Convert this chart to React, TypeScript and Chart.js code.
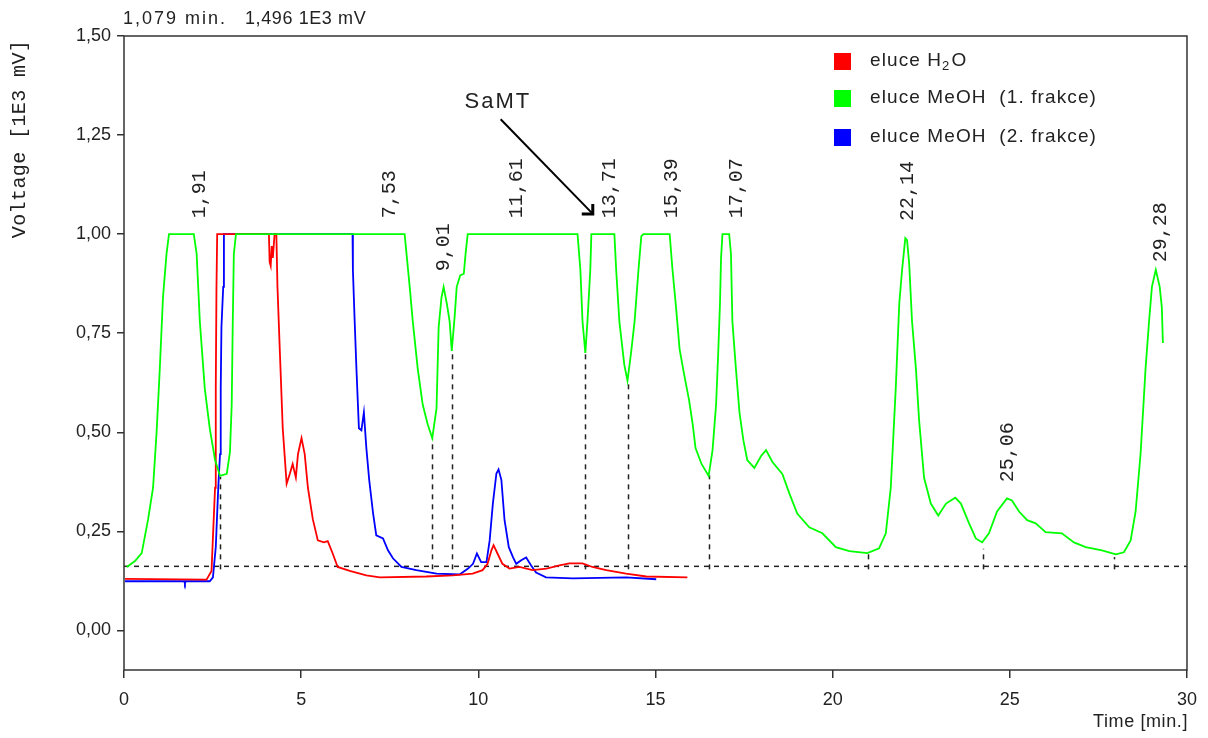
import React, { useEffect, useRef } from "react";
import { Chart, registerables } from "chart.js";

Chart.register(...registerables);

// ---------- data ----------
const xTicks = [0, 5, 10, 15, 20, 25, 30];
const yTicks = [0, 0.25, 0.5, 0.75, 1.0, 1.25, 1.5];

const seriesNames = ["eluce H₂O", "eluce MeOH  (1. frakce)", "eluce MeOH  (2. frakce)"];
const seriesColors = ["#ff0000", "#00ff00", "#0000ff"];

const headerTime = "1,079 min.";
const headerVolt = "1,496 1E3 mV";
const yTitle = "Voltage [1E3 mV]";
const xTitle = "Time [min.]";
const annotationText = "SaMT";

// eluce H2O (red)
const h2oTime = [0.03, 2.33, 2.47, 2.51, 2.57, 2.59, 2.61, 2.63, 4.09, 4.11, 4.14, 4.17, 4.2, 4.25, 4.3, 4.33, 4.4, 4.48, 4.59, 4.68, 4.76, 4.85, 4.91, 5.01, 5.1, 5.19, 5.33, 5.47, 5.64, 5.75, 5.89, 6.03, 6.37, 6.84, 7.22, 8.53, 9.28, 9.84, 10.12, 10.26, 10.37, 10.43, 10.54, 10.68, 10.88, 11.16, 11.53, 11.92, 12.29, 12.57, 12.94, 13.22, 13.61, 14.17, 14.74, 15.9];
const h2oVolt = [0.13, 0.128, 0.15, 0.235, 0.36, 0.61, 0.867, 1.0, 1.0, 0.93, 0.92, 0.97, 0.94, 1.0, 1.0, 0.87, 0.7, 0.51, 0.37, 0.395, 0.42, 0.386, 0.445, 0.485, 0.445, 0.36, 0.28, 0.227, 0.222, 0.225, 0.194, 0.16, 0.15, 0.139, 0.134, 0.136, 0.139, 0.143, 0.152, 0.168, 0.202, 0.215, 0.194, 0.168, 0.156, 0.16, 0.152, 0.156, 0.164, 0.169, 0.169, 0.16, 0.152, 0.143, 0.136, 0.134];

// eluce MeOH 1. frakce (green)
const meoh1Time = [0.08, 0.31, 0.5, 0.68, 0.82, 0.92, 1.01, 1.1, 1.2, 1.27, 1.97, 2.05, 2.14, 2.28, 2.42, 2.57, 2.71, 2.9, 2.99, 3.04, 3.07, 3.1, 3.16, 7.92, 8.06, 8.15, 8.29, 8.43, 8.57, 8.7, 8.82, 8.88, 8.96, 9.02, 9.11, 9.19, 9.25, 9.33, 9.39, 9.49, 9.59, 9.64, 9.7, 12.8, 12.88, 12.94, 13.02, 13.08, 13.16, 13.19, 13.84, 13.89, 13.98, 14.12, 14.21, 14.31, 14.41, 14.52, 14.6, 14.66, 15.4, 15.48, 15.58, 15.68, 15.8, 15.95, 16.05, 16.13, 16.3, 16.5, 16.61, 16.71, 16.77, 16.82, 16.85, 16.89, 17.08, 17.13, 17.17, 17.27, 17.37, 17.48, 17.59, 17.79, 17.98, 18.12, 18.3, 18.58, 18.78, 19.0, 19.34, 19.71, 20.09, 20.47, 20.98, 21.31, 21.5, 21.64, 21.78, 21.88, 21.96, 22.05, 22.1, 22.16, 22.24, 22.35, 22.44, 22.58, 22.77, 22.98, 23.2, 23.46, 23.62, 23.85, 24.04, 24.22, 24.41, 24.64, 24.92, 25.06, 25.26, 25.49, 25.73, 26.01, 26.47, 26.81, 27.14, 27.6, 27.99, 28.22, 28.41, 28.55, 28.69, 28.83, 28.93, 29.01, 29.12, 29.23, 29.29, 29.32];
const meoh1Volt = [0.16, 0.175, 0.195, 0.28, 0.36, 0.5, 0.66, 0.84, 0.95, 1.0, 1.0, 0.95, 0.78, 0.61, 0.51, 0.43, 0.39, 0.395, 0.45, 0.57, 0.78, 0.95, 1.0, 1.0, 0.87, 0.78, 0.66, 0.57, 0.52, 0.485, 0.56, 0.765, 0.84, 0.867, 0.825, 0.78, 0.705, 0.79, 0.867, 0.896, 0.9, 0.95, 1.0, 1.0, 0.91, 0.78, 0.7, 0.78, 0.91, 1.0, 1.0, 0.91, 0.78, 0.67, 0.63, 0.7, 0.78, 0.91, 0.995, 1.0, 1.0, 0.91, 0.815, 0.71, 0.65, 0.58, 0.52, 0.46, 0.42, 0.39, 0.455, 0.57, 0.7, 0.825, 0.94, 1.0, 1.0, 0.95, 0.78, 0.66, 0.55, 0.48, 0.43, 0.41, 0.44, 0.455, 0.425, 0.395, 0.345, 0.295, 0.26, 0.245, 0.21, 0.2, 0.195, 0.207, 0.245, 0.36, 0.61, 0.825, 0.91, 0.99, 0.985, 0.925, 0.78, 0.66, 0.53, 0.385, 0.32, 0.29, 0.32, 0.335, 0.32, 0.27, 0.232, 0.222, 0.245, 0.3, 0.333, 0.328, 0.3, 0.278, 0.27, 0.248, 0.245, 0.222, 0.21, 0.202, 0.192, 0.197, 0.227, 0.3, 0.445, 0.66, 0.78, 0.867, 0.91, 0.867, 0.815, 0.725];

// eluce MeOH 2. frakce (blue)
const meoh2Time = [0.03, 1.7, 1.72, 1.74, 2.42, 2.51, 2.59, 2.66, 2.71, 2.73, 2.75, 2.8, 2.82, 6.45, 6.46, 6.51, 6.56, 6.63, 6.7, 6.77, 6.84, 6.92, 7.03, 7.12, 7.31, 7.45, 7.59, 7.83, 8.25, 8.82, 9.47, 9.71, 9.85, 9.96, 10.08, 10.23, 10.32, 10.41, 10.51, 10.57, 10.65, 10.74, 10.86, 10.98, 11.07, 11.21, 11.35, 11.49, 11.63, 11.91, 12.67, 14.17, 15.02];
const meoh2Volt = [0.124, 0.124, 0.118, 0.124, 0.124, 0.134, 0.21, 0.36, 0.445, 0.61, 0.765, 0.867, 1.0, 1.0, 0.91, 0.78, 0.66, 0.51, 0.505, 0.55, 0.46, 0.38, 0.295, 0.24, 0.232, 0.202, 0.182, 0.16, 0.152, 0.143, 0.141, 0.156, 0.168, 0.194, 0.172, 0.172, 0.227, 0.32, 0.396, 0.406, 0.38, 0.278, 0.21, 0.184, 0.168, 0.177, 0.184, 0.164, 0.146, 0.134, 0.131, 0.134, 0.129];

// integration baseline and drop lines
const baselineLevel = 0.1616;
const dropTime = [2.71, 8.7, 9.26, 13.02, 14.23, 16.52, 21.0, 24.25, 27.94];
const dropLevel = [0.387, 0.484, 0.707, 0.699, 0.631, 0.391, 0.193, 0.206, 0.185];

// peak retention-time labels
const peakLabels = ["1,91", "7,53", "9,01", "11,61", "13,71", "15,39", "17,07", "22,14", "25,06", "29,28"];
const peakLabelTime = [2.14, 7.5, 9.03, 11.07, 13.7, 15.45, 17.28, 22.13, 24.95, 29.25];
const peakLabelLevel = [1.04, 1.04, 0.906, 1.04, 1.04, 1.04, 1.04, 1.033, 0.374, 0.929];

// SaMT annotation (time, voltage)
const annotationTextAt = [9.61, 1.333];
const arrowFrom = [10.63, 1.29];
const arrowTo = [13.23, 1.051];

// ---------- component ----------
const SANS = "'Liberation Sans', Arial, sans-serif";
const MONO = "'Liberation Mono', 'Courier New', monospace";
const INK = "#222222";

function pts(ts: number[], vs: number[]) {
  return ts.map((t, i) => ({ x: t, y: vs[i] }));
}

export default function App() {
  const ref = useRef<HTMLCanvasElement>(null);

  useEffect(() => {
    document.body.style.margin = "0";
    const canvas = ref.current!;

    const overlay = {
      id: "overlay",
      beforeDatasetsDraw(chart: any) {
        const ctx = chart.ctx as CanvasRenderingContext2D;
        const xs = chart.scales.x;
        const ys = chart.scales.y;
        const area = chart.chartArea;
        const by = ys.getPixelForValue(baselineLevel);
        ctx.save();
        ctx.strokeStyle = INK;
        ctx.lineWidth = 1.5;
        ctx.setLineDash([5, 5]);
        ctx.beginPath();
        ctx.moveTo(area.left, by);
        ctx.lineTo(area.right, by);
        ctx.stroke();
        dropTime.forEach((t, i) => {
          const px = Math.round(xs.getPixelForValue(t)) + 0.5;
          ctx.beginPath();
          ctx.moveTo(px, by + 3);
          ctx.lineTo(px, ys.getPixelForValue(dropLevel[i]));
          ctx.stroke();
        });
        ctx.restore();
      },
      afterDraw(chart: any) {
        const ctx = chart.ctx as CanvasRenderingContext2D & { letterSpacing: string };
        const xs = chart.scales.x;
        const ys = chart.scales.y;
        const area = chart.chartArea;
        ctx.save();

        // frame
        ctx.strokeStyle = "#333333";
        ctx.lineWidth = 1.5;
        ctx.setLineDash([]);
        ctx.strokeRect(area.left, area.top, area.right - area.left, area.bottom - area.top);

        ctx.fillStyle = INK;

        // header
        ctx.font = `18px ${SANS}`;
        ctx.textAlign = "left";
        ctx.textBaseline = "middle";
        ctx.letterSpacing = "2px";
        ctx.fillText(headerTime, 123, 19);
        ctx.letterSpacing = "0.6px";
        ctx.fillText(headerVolt, 245, 19);

        // x title
        ctx.letterSpacing = "0.6px";
        ctx.textAlign = "right";
        ctx.fillText(xTitle, area.right + 1, 722);

        // y title
        ctx.font = `20px ${MONO}`;
        ctx.letterSpacing = "0.4px";
        ctx.save();
        ctx.translate(20, 139);
        ctx.rotate(-Math.PI / 2);
        ctx.textAlign = "center";
        ctx.textBaseline = "middle";
        ctx.fillText(yTitle, 0, 0);
        ctx.restore();

        // peak labels
        ctx.letterSpacing = "0px";
        peakLabels.forEach((lab, i) => {
          const px = xs.getPixelForValue(peakLabelTime[i]);
          const py = ys.getPixelForValue(peakLabelLevel[i]);
          ctx.save();
          ctx.translate(px, py);
          ctx.rotate(-Math.PI / 2);
          ctx.textAlign = "left";
          ctx.textBaseline = "middle";
          ctx.fillText(lab, 0, 0);
          ctx.restore();
        });

        // SaMT annotation
        ctx.font = `22px ${SANS}`;
        ctx.letterSpacing = "2px";
        ctx.textAlign = "left";
        ctx.textBaseline = "middle";
        ctx.fillText(annotationText, xs.getPixelForValue(annotationTextAt[0]), ys.getPixelForValue(annotationTextAt[1]));
        const ax0 = xs.getPixelForValue(arrowFrom[0]);
        const ay0 = ys.getPixelForValue(arrowFrom[1]);
        const ax1 = xs.getPixelForValue(arrowTo[0]);
        const ay1 = ys.getPixelForValue(arrowTo[1]);
        ctx.strokeStyle = "#000";
        ctx.lineWidth = 2;
        ctx.beginPath();
        ctx.moveTo(ax0, ay0);
        ctx.lineTo(ax1, ay1);
        ctx.stroke();
        ctx.lineWidth = 3;
        ctx.beginPath();
        ctx.moveTo(ax1 - 11, ay1);
        ctx.lineTo(ax1, ay1);
        ctx.lineTo(ax1, ay1 - 10);
        ctx.stroke();

        // legend
        ctx.font = `19px ${SANS}`;
        ctx.letterSpacing = "1.1px";
        const legendY = [61, 98, 137];
        seriesNames.forEach((name, i) => {
          const y = legendY[i];
          ctx.fillStyle = seriesColors[i];
          ctx.fillRect(834, y - 8, 17, 17);
          ctx.fillStyle = INK;
          ctx.textAlign = "left";
          ctx.textBaseline = "middle";
          const parts = name.split("₂");
          let x = 870;
          ctx.font = `19px ${SANS}`;
          ctx.fillText(parts[0], x, y);
          x += ctx.measureText(parts[0]).width;
          if (parts.length > 1) {
            ctx.font = `13px ${SANS}`;
            ctx.fillText("2", x, y + 5);
            x += ctx.measureText("2").width + 1;
            ctx.font = `19px ${SANS}`;
            ctx.fillText(parts[1], x, y);
          }
        });

        ctx.restore();
      },
    };

    const fmtY = (v: number) => v.toFixed(2).replace(".", ",");

    const chart = new Chart(canvas, {
      type: "line",
      data: {
        datasets: [
          {
            label: seriesNames[0],
            data: pts(h2oTime, h2oVolt),
            borderColor: seriesColors[0],
            backgroundColor: seriesColors[0],
            borderWidth: 1.8,
            pointRadius: 0,
            tension: 0,
            order: 1,
          },
          {
            label: seriesNames[1],
            data: pts(meoh1Time, meoh1Volt),
            borderColor: seriesColors[1],
            backgroundColor: seriesColors[1],
            borderWidth: 1.8,
            pointRadius: 0,
            tension: 0,
            order: 0,
          },
          {
            label: seriesNames[2],
            data: pts(meoh2Time, meoh2Volt),
            borderColor: seriesColors[2],
            backgroundColor: seriesColors[2],
            borderWidth: 1.8,
            pointRadius: 0,
            tension: 0,
            order: 2,
          },
        ],
      },
      options: {
        responsive: false,
        animation: false,
        devicePixelRatio: 1,
        layout: { padding: { top: 36, right: 20, left: 0, bottom: 0 } },
        plugins: {
          legend: { display: false },
          tooltip: { enabled: false },
          title: { display: false },
        },
        scales: {
          x: {
            type: "linear",
            min: 0,
            max: 30,
            afterBuildTicks: (s: any) => {
              s.ticks = xTicks.map((v) => ({ value: v }));
            },
            afterFit: (s: any) => {
              s.height = 68;
            },
            ticks: {
              autoSkip: false,
              maxRotation: 0,
              font: { family: SANS, size: 18 },
              color: INK,
              padding: 11,
              callback: (v: any) => String(v),
            },
            grid: {
              drawOnChartArea: false,
              drawTicks: true,
              tickLength: 8,
              color: "#333333",
              lineWidth: 1.5,
            },
            border: { display: false },
          },
          y: {
            type: "linear",
            min: -0.1,
            max: 1.5,
            afterBuildTicks: (s: any) => {
              s.ticks = yTicks.map((v) => ({ value: v }));
            },
            afterFit: (s: any) => {
              s.width = 124;
            },
            ticks: {
              autoSkip: false,
              font: { family: SANS, size: 18 },
              color: INK,
              padding: 6,
              callback: (v: any) => fmtY(Number(v)),
            },
            grid: {
              drawOnChartArea: false,
              drawTicks: true,
              tickLength: 7,
              color: "#333333",
              lineWidth: 1.5,
            },
            border: { display: false },
          },
        },
      },
      plugins: [overlay],
    } as any);

    return () => chart.destroy();
  }, []);

  return (
    <div style={{ width: 1208, height: 738, background: "#fff" }}>
      <canvas ref={ref} width={1208} height={738} style={{ display: "block" }} />
    </div>
  );
}
